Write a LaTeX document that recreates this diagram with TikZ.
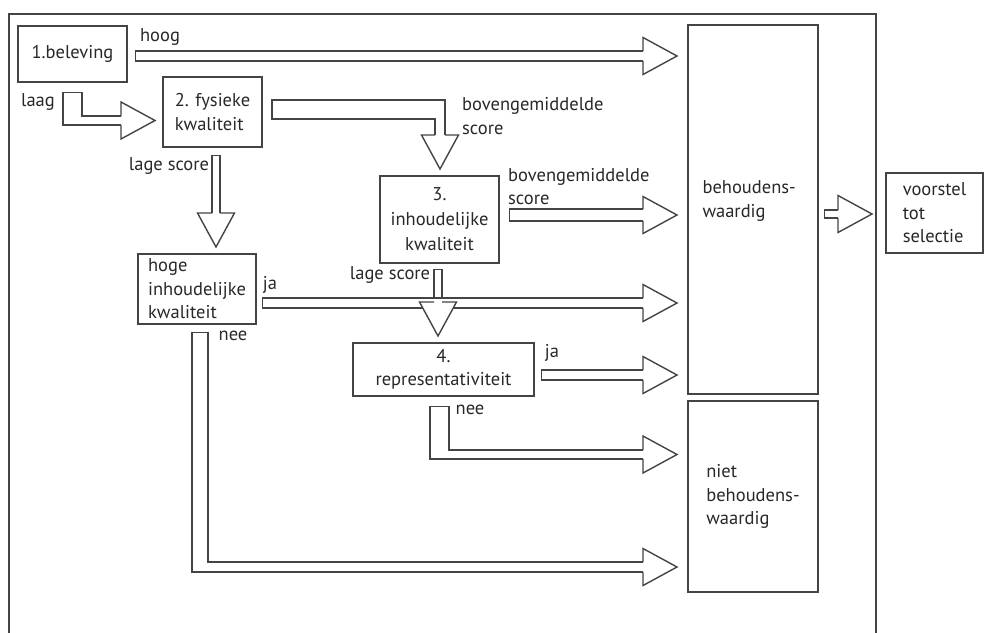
\documentclass[tikz,border=0pt]{standalone}
\usepackage{fontspec}
\setmainfont{PT Sans}
\usepackage{tikz}
\usetikzlibrary{positioning, calc}
\definecolor{ink}{RGB}{68,68,68}
\definecolor{txt}{RGB}{40,40,40}

\begin{document}
\begin{tikzpicture}[
        x=1pt, y=-1pt,
        font=\fontsize{18.5}{23.5}\selectfont,
        box/.style={draw=ink, line width=1.4pt, text=txt, align=center, inner sep=2pt},
        tag/.style={text=txt, inner sep=0pt, align=left},
        fat/.style={draw=ink, line width=1.4pt, double=white, double distance=#1, line cap=rect, line join=miter},
        rim/.style={draw=ink, line width=#1, line cap=rect, line join=miter},
        core/.style={draw=white, line width=#1, line cap=rect, line join=miter},
        head/.pic={\filldraw[fill=white, draw=ink, line width=1.4pt, line join=miter]
            (0,#1) -- (0,18.5) -- (34,0) -- (0,-18.5) -- (0,-#1);}
    ]
    \useasboundingbox (0,0) rectangle (984,632);

    % frame
    \draw[ink, line width=1.4pt] (9,650) -- (9,14) -- (876,14) -- (876,650);

    % boxes
    \node[box, minimum width=109pt, minimum height=56pt] (bel) at (72.5,54) {1.beleving};
    \node[box, align=left, minimum width=99pt, minimum height=70pt] (fys) at (212.5,112) {2. fysieke\\kwaliteit};
    \node[box, minimum width=119pt, minimum height=87pt, font=\fontsize{18.5}{25}\selectfont] (inh) at (439.5,219.5) {3.\\inhoudelijke\\kwaliteit};
    \node[box, align=left, minimum width=118pt, minimum height=70pt] (hoge) at (197,289) {hoge\\inhoudelijke\\kwaliteit};
    \node[box, minimum width=181pt, minimum height=53pt] (rep) at (443.5,369.5) {4.\\representativiteit};
    \node[box, minimum width=130pt, minimum height=369pt,
        label={[tag, anchor=west, xshift=15pt, yshift=8.5pt]west:{behoudens-\\waardig}}] (beh) at (753,209.5) {};
    \node[box, align=left, minimum width=130pt, minimum height=191pt] (niet) at (753,496.5) {niet\\behoudens-\\waardig};
    \node[box, align=left, minimum width=97pt, minimum height=80pt] (sel) at (934.5,213) {voorstel\\tot\\selectie};

    % hoog
    \coordinate (hoogEnd) at (643,56);
    \draw[fat=8.6pt] ([xshift=13pt, yshift=-2pt]bel.east) -- (hoogEnd);
    \pic at (hoogEnd) {head=5};

    % laag
    \coordinate (laagA) at ([yshift=-19.5pt]bel.south);
    \coordinate (laagB) at (72.5,115.5);
    \coordinate (laagC) at (67.5,120.5);
    \coordinate (laagEnd) at (121,120.5);
    \draw[rim=20.4pt] (laagA) -- (laagB);
    \draw[rim=10.4pt] (laagC) -- (laagEnd);
    \draw[core=17.6pt] (laagA) -- (laagB);
    \draw[core=7.6pt] (laagC) -- (laagEnd);
    \pic at (laagEnd) {head=4.5};

    % fysiek -> inhoudelijk
    \coordinate (fysA) at (281.5,109.5);
    \coordinate (fysB) at (435.5,109.5);
    \coordinate (fysC) at (440,105);
    \coordinate (fysEnd) at (440,135);
    \draw[rim=20.4pt] (fysA) -- (fysB);
    \draw[rim=11.4pt] (fysC) -- (fysEnd);
    \draw[core=17.6pt] (fysA) -- (fysB);
    \draw[core=8.6pt] (fysC) -- (fysEnd);
    \pic[rotate=-90] at (fysEnd) {head=5};

    % fysiek -> hoge
    \coordinate (lageEnd) at (216,213);
    \draw[fat=6.6pt] ([xshift=3.5pt, yshift=-12pt]fys.south) -- (lageEnd);
    \pic[rotate=-90] at (lageEnd) {head=4};

    % inhoudelijk -> behoudenswaardig
    \coordinate (bovEnd) at (643,215);
    \draw[fat=10.6pt] ([xshift=16pt, yshift=4.5pt]inh.east) -- (bovEnd);
    \pic at (bovEnd) {head=6};

    % inhoudelijk -> representativiteit, hoge -> behoudenswaardig
    \coordinate (repEnd) at (438,302);
    \coordinate (jaEnd) at (643,303);
    \draw[fat=6.6pt] ([xshift=-1.5pt, yshift=-10pt]inh.south) -- (repEnd);
    \draw[fat=8.6pt] ([xshift=11pt, yshift=-14pt]hoge.east) -- (jaEnd);
    \pic at (jaEnd) {head=5};
    \pic[rotate=-90] at (repEnd) {head=4};

    % representativiteit -> behoudenswaardig
    \coordinate (repJa) at (643,375);
    \draw[fat=8.6pt] ([xshift=12pt, yshift=-5.5pt]rep.east) -- (repJa);
    \pic at (repJa) {head=5};

    % hoge -> niet
    \coordinate (neeA) at ([xshift=3pt, yshift=-16pt]hoge.south);
    \coordinate (neeB) at (200,564);
    \coordinate (neeC) at (197,567);
    \coordinate (neeEnd) at (643,567);
    \draw[rim=17.4pt] (neeA) -- (neeB);
    \draw[rim=11.4pt] (neeC) -- (neeEnd);
    \draw[core=14.6pt] (neeA) -- (neeB);
    \draw[core=8.6pt] (neeC) -- (neeEnd);
    \pic at (neeEnd) {head=5};

    % representativiteit -> niet
    \coordinate (repA) at ([xshift=-4pt, yshift=-19.5pt]rep.south);
    \coordinate (repB) at (439.5,449.5);
    \coordinate (repC) at (434.5,454.5);
    \coordinate (repNee) at (643,454.5);
    \draw[rim=20.4pt] (repA) -- (repB);
    \draw[rim=10.4pt] (repC) -- (repNee);
    \draw[core=17.6pt] (repA) -- (repB);
    \draw[core=7.6pt] (repC) -- (repNee);
    \pic at (repNee) {head=4.5};

    % behoudenswaardig -> selectie
    \coordinate (selEnd) at (838,214);
    \draw[fat=6.6pt] ([xshift=10pt, yshift=-4.5pt]beh.east) -- (selEnd);
    \pic at (selEnd) {head=4};

    % labels
    \node[tag] (tHoog) at (160,37) {hoog};
    \node[tag] (tLaag) at (38,102) {laag};
    \node[tag] (tLage) at (169,166) {lage score};
    \node[tag, anchor=west] (tBov) at (462,116) {bovengemiddelde\\score};
    \node[tag, anchor=west] (tBov2) at (508,186.5) {bovengemiddelde\\score};
    \node[tag] (tLage2) at (390,275) {lage score};
    \node[tag] (tJa) at (270,285) {ja};
    \node[tag] (tNee) at (233,336) {nee};
    \node[tag] (tJa2) at (552,353) {ja};
    \node[tag] (tNee2) at (470,410) {nee};
\end{tikzpicture}
\end{document}
